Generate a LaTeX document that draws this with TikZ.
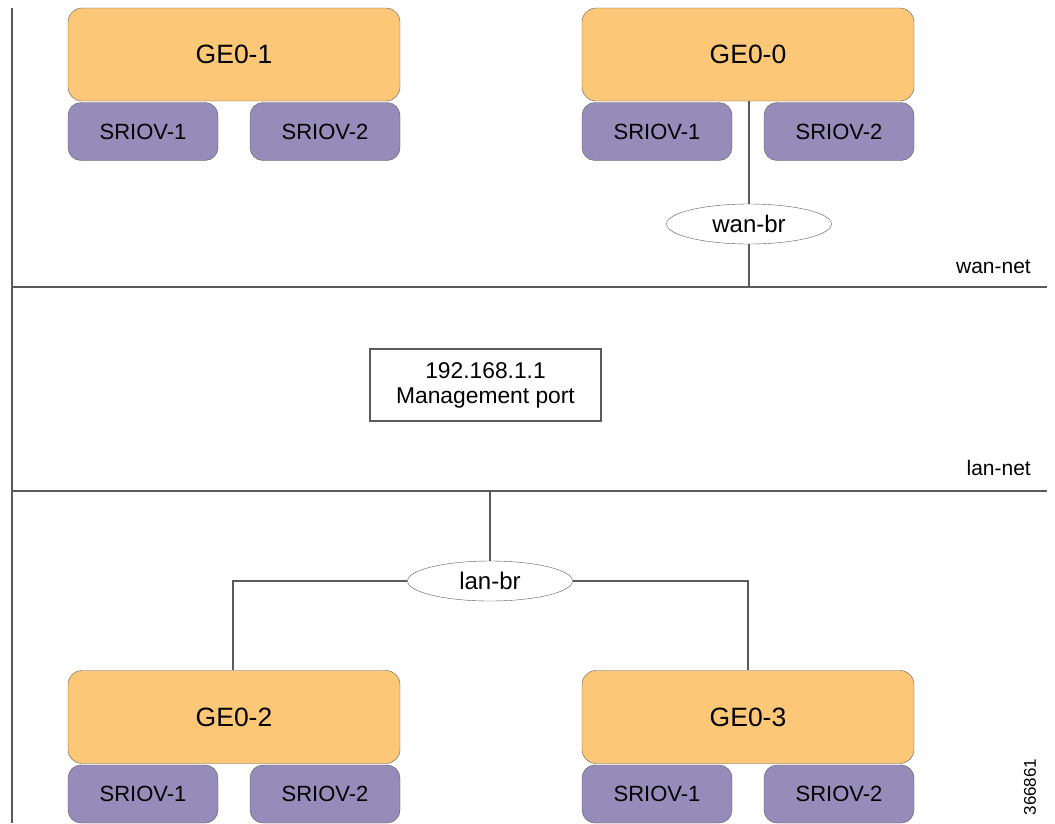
\documentclass[tikz,border=0pt]{standalone}
\usepackage{fontspec}
\setmainfont{Liberation Sans}
\usetikzlibrary{shapes.geometric}
\definecolor{georange}{HTML}{FCC878}
\definecolor{sriovpurple}{HTML}{958CB9}
\definecolor{netgray}{HTML}{5A5A5A}

\begin{document}
\begin{tikzpicture}[x=1pt,y=-1pt,
        gebox/.style={draw=netgray, fill=georange, rounded corners=14pt, minimum width=332pt, minimum height=93pt, inner sep=0pt, font=\fontsize{26.5}{30}\selectfont},
        sriovbox/.style={draw=netgray, fill=sriovpurple, rounded corners=13pt, minimum width=150pt, minimum height=58pt, inner sep=0pt, font=\fontsize{22}{25}\selectfont},
        brnode/.style={draw=netgray, ellipse, minimum width=165pt, minimum height=40pt, inner sep=0pt, font=\fontsize{24}{27}\selectfont},
        netline/.style={draw=netgray, line width=1.1pt},
        netlabel/.style={anchor=east, inner sep=0pt, font=\fontsize{21}{25}\selectfont}]
        \useasboundingbox (0,0) rectangle (1055,823);
        \pgfmathsetmacro{\wany}{287}
        \pgfmathsetmacro{\lany}{491}

        % networks
        \draw[netline] (12,8) -- (12,823);
        \coordinate (wanl) at (12,\wany); \coordinate (wanr) at (1047,\wany);
        \coordinate (lanl) at (12,\lany); \coordinate (lanr) at (1047,\lany);
        \draw[netline] (wanl) -- (wanr);
        \draw[netline] (lanl) -- (lanr);
        \node[netlabel] (wannet) at (1031,267) {wan-net};
        \node[netlabel] (lannet) at (1031,468) {lan-net};

        % top
        \node[gebox] (ge01) at (234,54.5) {GE0-1};
        \node[sriovbox] (ge01s1) at (143,131.5) {SRIOV-1};
        \node[sriovbox] (ge01s2) at (325,131.5) {SRIOV-2};
        \node[gebox] (ge00) at (748,54.5) {GE0-0};
        \node[sriovbox] (ge00s1) at (657,131.5) {SRIOV-1};
        \node[sriovbox] (ge00s2) at (839,131.5) {SRIOV-2};
        \node[brnode] (wanbr) at (749,224) {wan-br};
        \coordinate (wantap) at (749,\wany);
        \draw[netline] (ge00.south -| wanbr) -- (wanbr.north);
        \draw[netline] (wanbr.south) -- (wantap);

        \node[draw=netgray, line width=1.1pt, minimum width=231pt, minimum height=72pt, align=center, font=\fontsize{22.8}{25}\selectfont] (mgmt) at (485.5,385) {192.168.1.1\\Management port};

        % bottom
        \node[brnode] (lanbr) at (490,581) {lan-br};
        \coordinate (lantap) at (490,\lany);
        \node[gebox] (ge02) at (234,717) {GE0-2};
        \node[sriovbox] (ge02s1) at (143,794) {SRIOV-1};
        \node[sriovbox] (ge02s2) at (325,794) {SRIOV-2};
        \node[gebox] (ge03) at (748,717) {GE0-3};
        \node[sriovbox] (ge03s1) at (657,794) {SRIOV-1};
        \node[sriovbox] (ge03s2) at (839,794) {SRIOV-2};
        \draw[netline] (lantap) -- (lanbr.north);
        \draw[netline] (lanbr.west) -| (ge02.north -| 233,0);
        \draw[netline] (lanbr.east) -| (ge03.north);

        \node[rotate=90, inner sep=0pt, font=\fontsize{17}{20}\selectfont] (figid) at (1030,787) {366861};
\end{tikzpicture}
\end{document}
